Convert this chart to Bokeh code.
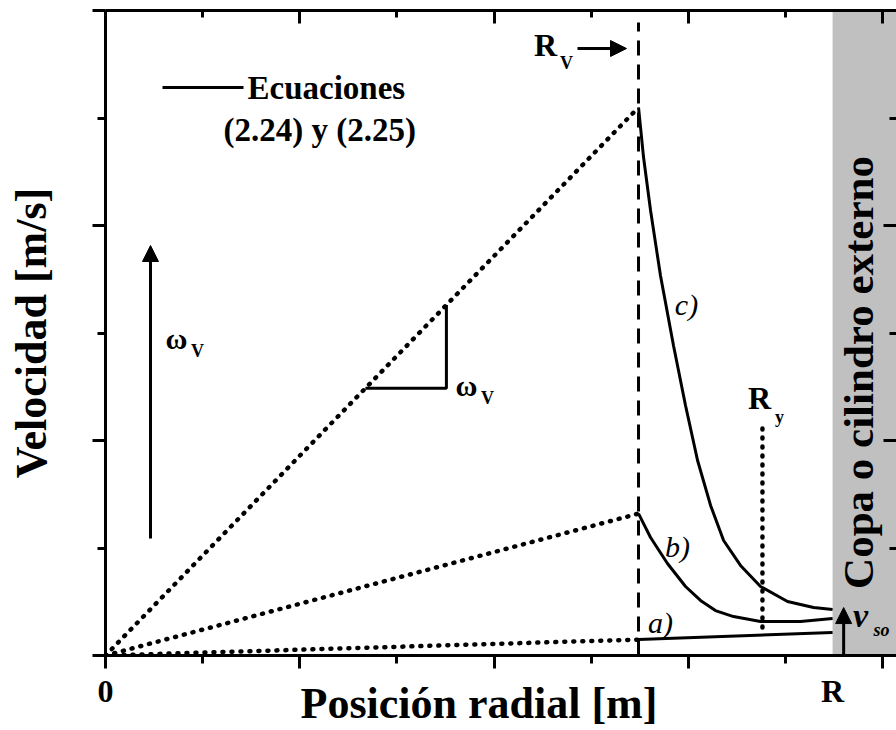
from bokeh.plotting import figure
from bokeh.models import (LinearAxis, FixedTicker, Label, Arrow, NormalHead,
                          BoxAnnotation, Range1d, CustomJSTickFormatter)
from bokeh.embed import file_html
from bokeh.resources import INLINE

# ---------------- data ----------------
R_V = 2.744          # radius of the vane
R_OUT = 3.743        # radius R of the cup
R_Y = 3.382          # yield radius
RY_SPAN = [0.13, 1.056]
peak_a, peak_b, peak_c = 0.074, 0.66, 2.549

line_a_x = [2.744, 3.743]
line_a_y = [0.074, 0.107]

curve_b_x = [2.744, 2.806, 2.893, 2.986, 3.063, 3.140, 3.233, 3.372, 3.578, 3.743]
curve_b_y = [0.660, 0.549, 0.428, 0.321, 0.256, 0.209, 0.181, 0.158, 0.158, 0.172]

curve_c_x = [2.744, 2.770, 2.806, 2.857, 2.924, 2.986, 3.048, 3.115, 3.182,
             3.269, 3.372, 3.511, 3.645, 3.743]
curve_c_y = [2.549, 2.316, 2.070, 1.767, 1.442, 1.163, 0.907, 0.698, 0.535,
             0.419, 0.321, 0.251, 0.223, 0.214]

tri_x = [1.338, 1.755]
v_so_top = 0.223
v_so_x = 3.80

x_major = [0, 1, 2, 3, 4]
x_minor = [0.5, 1.5, 2.5, 3.5]
y_major = [0, 1, 2, 3]
y_minor = [0.5, 1.5, 2.5]
x_tick_labels = ["0", "R"]
x_label_pos = [0, R_OUT]

# ---------------- layout ----------------
FONT = "Liberation Serif"
FL, FR, FT, FB = 105, 896, 10, 655
XS = 194.25
YS = (FB - FT) / 3.0
XMAX = (FR - FL) / XS


def dx(px):
    return (px - FL) / XS


def dy(py):
    return (FB - py) / YS


p = figure(width=896, height=730, x_range=Range1d(0, XMAX), y_range=Range1d(0, 3),
           output_backend="svg", toolbar_location=None,
           x_axis_location=None, y_axis_location=None,
           min_border_left=FL, min_border_right=0, min_border_top=FT,
           min_border_bottom=730 - FB)
p.grid.visible = False
p.outline_line_color = None
p.background_fill_color = "white"
p.border_fill_color = "white"


def make_axis(ticks, minor, t_in, t_out, m_in, m_out, line=True):
    ax = LinearAxis(ticker=FixedTicker(ticks=ticks, minor_ticks=minor))
    ax.formatter = CustomJSTickFormatter(code="return '';")
    ax.major_label_text_font_size = "1px"
    ax.major_label_standoff = 0
    ax.major_tick_in = t_in
    ax.major_tick_out = t_out
    ax.minor_tick_in = m_in
    ax.minor_tick_out = m_out
    ax.major_tick_line_width = 3
    ax.minor_tick_line_width = 3
    ax.major_tick_line_color = "black"
    ax.minor_tick_line_color = "black"
    ax.axis_line_width = 3
    ax.axis_line_color = "black" if line else None
    return ax


bottom = make_axis(x_major, x_minor, 0, 13, 0, 8)
left = make_axis(y_major, y_minor, 0, 13, 0, 8)
left.axis_label = "Velocidad [m/s]"
left.axis_label_text_font = FONT
left.axis_label_text_font_size = "44px"
left.axis_label_text_font_style = "bold"
left.axis_label_text_color = "black"
left.axis_label_standoff = 37
p.add_layout(bottom, "below")
p.add_layout(left, "left")
p.add_layout(make_axis(x_major, x_minor, 13, 0, 7, 0), "above")
p.add_layout(make_axis(y_major, y_minor, 13, 0, 7, 0, line=False), "right")

# second bottom axis: only the labels "0", "R" and the title
lab_axis = LinearAxis(ticker=FixedTicker(ticks=x_label_pos, minor_ticks=[]))
lab_axis.formatter = CustomJSTickFormatter(
    args=dict(names=x_tick_labels, pos=x_label_pos),
    code="""
    let best = 0;
    for (let i = 0; i < pos.length; i++) {
        if (Math.abs(pos[i] - tick) < Math.abs(pos[best] - tick)) { best = i; }
    }
    return names[best];
    """)
lab_axis.axis_line_color = None
lab_axis.major_tick_line_color = None
lab_axis.minor_tick_line_color = None
lab_axis.major_tick_in = 0
lab_axis.major_tick_out = 0
lab_axis.minor_tick_in = 0
lab_axis.minor_tick_out = 0
lab_axis.major_label_standoff = 4
lab_axis.major_label_text_font = FONT
lab_axis.major_label_text_font_size = "32px"
lab_axis.major_label_text_font_style = "bold"
lab_axis.major_label_text_color = "black"
# trailing no-break spaces shift the centred title slightly to the left, as in the original
lab_axis.axis_label = "Posición radial [m]" + "\u00a0" * 4
lab_axis.axis_label_text_font = FONT
lab_axis.axis_label_text_font_size = "44px"
lab_axis.axis_label_text_font_style = "bold"
lab_axis.axis_label_text_color = "black"
lab_axis.axis_label_standoff = -33
p.add_layout(lab_axis, "below")

# grey cup region
p.add_layout(BoxAnnotation(left=R_OUT, fill_color="#c0c0c0", fill_alpha=1.0,
                           line_color=None, level="underlay"))

# dotted rigid-rotation lines
for pk in (peak_a, peak_b, peak_c):
    p.line([0, R_V], [0, pk], line_color="black", line_width=4.5,
           line_dash="1 8", line_cap="round")

# dashed R_V line
p.line([R_V, R_V], [0, dy(22)], line_color="black", line_width=3, line_dash="15 9")

# solid curves
p.line(line_a_x, line_a_y, line_color="black", line_width=3)
p.line(curve_b_x, curve_b_y, line_color="black", line_width=3)
p.line(curve_c_x, curve_c_y, line_color="black", line_width=3)

# R_y dotted line
p.line([R_Y, R_Y], RY_SPAN, line_color="black", line_width=4.5,
       line_dash="1 8", line_cap="round")

# slope triangle
slope_c = peak_c / R_V
p.line([tri_x[0], tri_x[1], tri_x[1]],
       [slope_c * tri_x[0], slope_c * tri_x[0], slope_c * tri_x[1]],
       line_color="black", line_width=3)

# legend sample line
p.line([dx(162), dx(243)], [dy(87), dy(87)], line_color="black", line_width=3)


def lab(text, px, py, size, style="bold", align="center", angle=0.0, baseline="middle"):
    p.add_layout(Label(x=dx(px), y=dy(py), text=text, text_font=FONT,
                       text_font_size=f"{size}px", text_font_style=style,
                       text_align=align, text_baseline=baseline, angle=angle,
                       text_color="black"))


def arrow(x0, y0, x1, y1):
    p.add_layout(Arrow(end=NormalHead(size=16, fill_color="black", line_color="black",
                                      line_width=1),
                       x_start=x0, y_start=y0, x_end=x1, y_end=y1,
                       line_width=3, line_color="black"))


# legend text
lab("Ecuaciones", 247, 87, 33, align="left")
lab("(2.24) y (2.25)", 223, 129, 33, align="left")

# R_V label + arrow
lab("R", 545, 44, 32)
lab("V", 566, 62, 18)
arrow(dx(577), dy(48), dx(626), dy(48))

# omega_V arrow on the left
arrow(dx(150), dy(538), dx(150), dy(245))
lab("ω", 176, 338, 30)
lab("V", 197, 350, 18)

# omega_V at triangle
lab("ω", 466, 385, 30)
lab("V", 487, 397, 18)

# curve labels
lab("c)", 686, 304, 30, style="italic")
lab("b)", 677, 546, 30, style="italic")
lab("a)", 660, 622, 30, style="italic")

# R_y label
lab("R", 759, 397, 32)
lab("y", 779, 416, 18)

# v_so arrow + label
arrow(v_so_x, 0, v_so_x, v_so_top)
lab("v", 860, 615, 34, style="bold italic")
lab("so", 881, 629, 18, style="bold italic")

# cup text
lab("Copa o cilindro externo", 858, 372, 43, angle=1.5707963)

open("out.html", "w").write(file_html(p, INLINE))
